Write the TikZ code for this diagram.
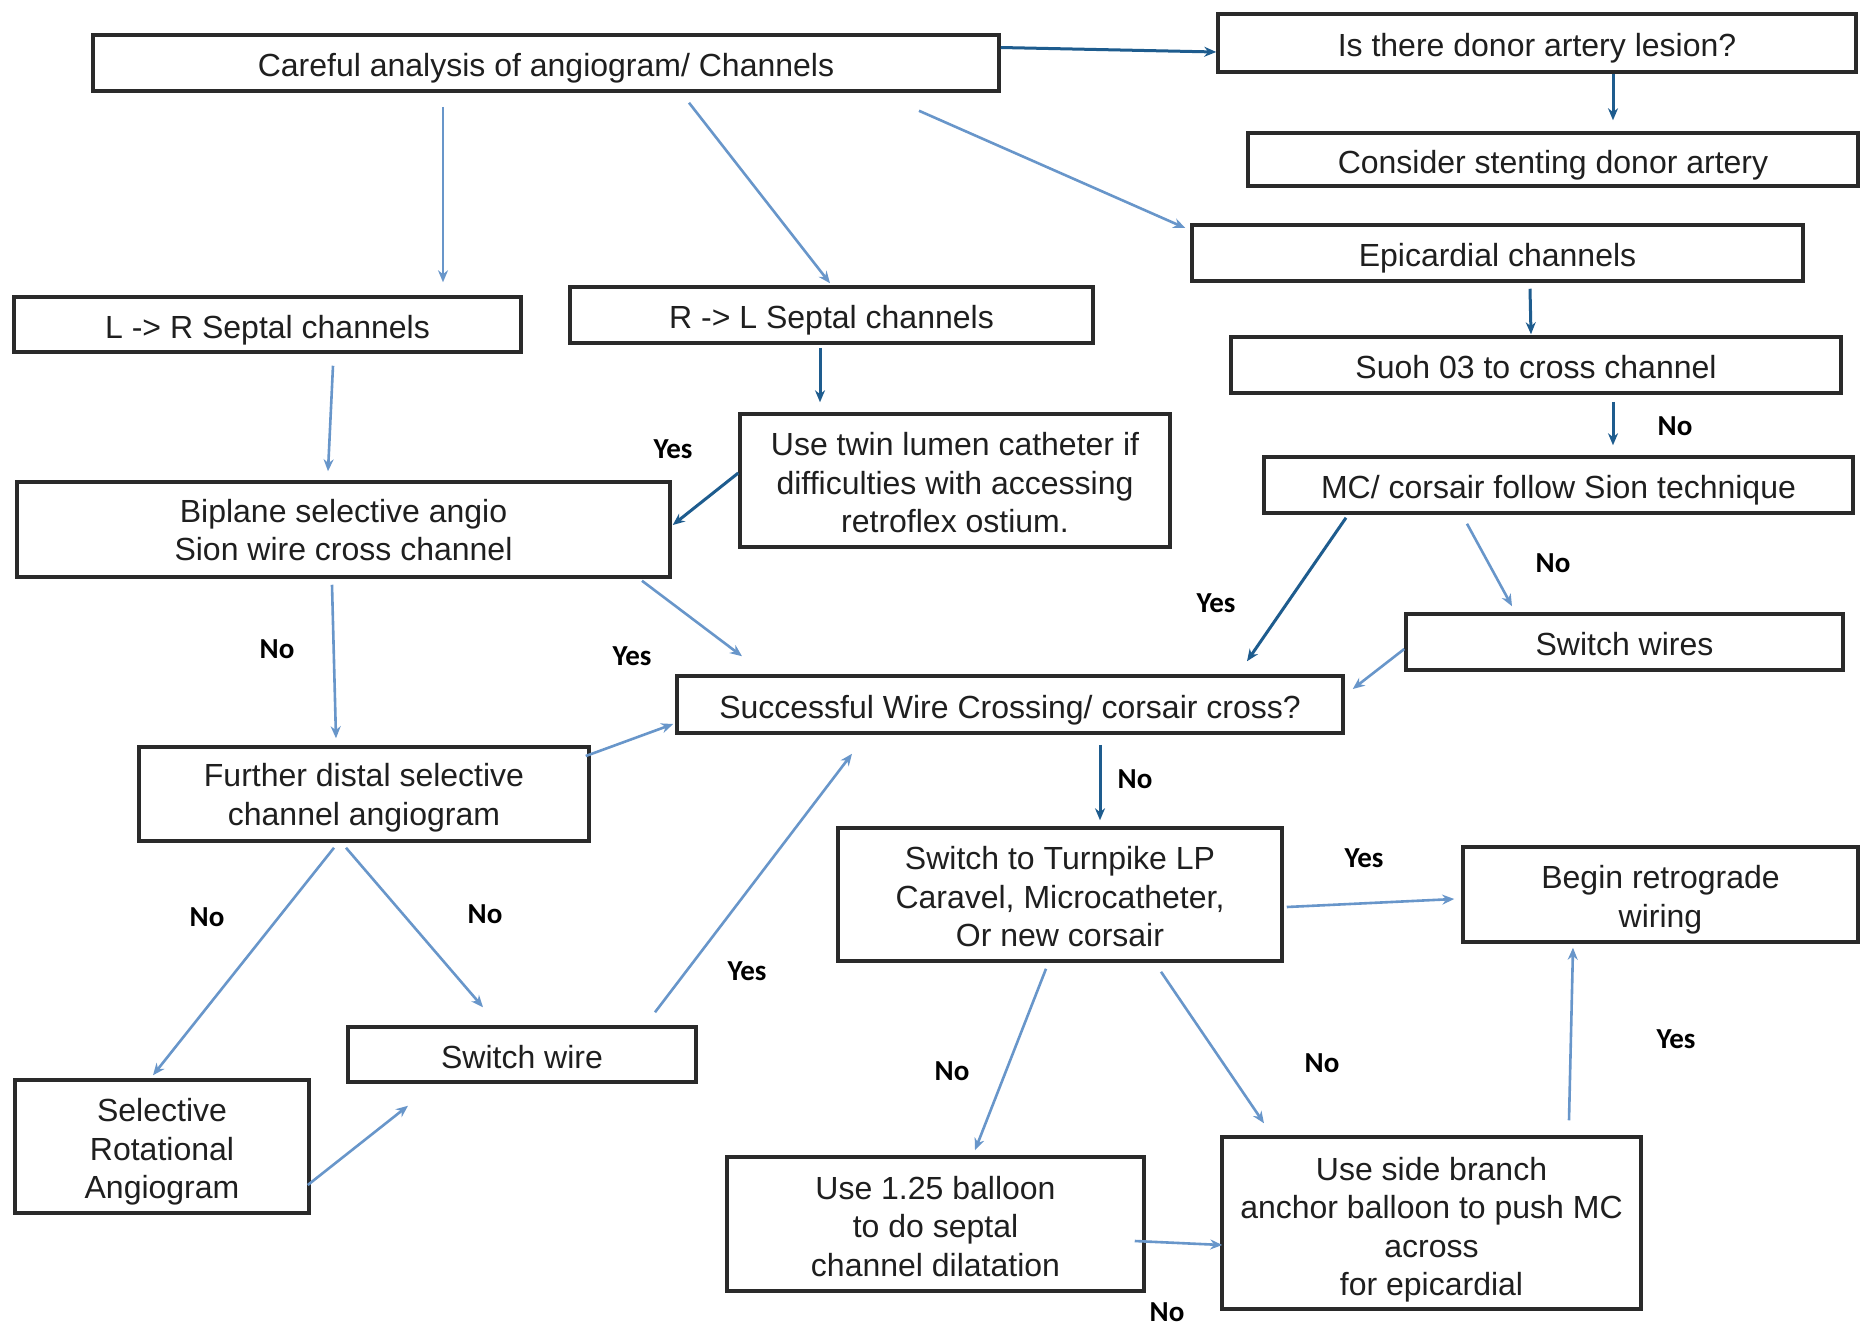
\documentclass[tikz,border=0pt]{standalone}
\usepackage{fontspec}
\setmainfont{Liberation Sans}
\newfontfamily\lblfont{Carlito}
\usetikzlibrary{arrows.meta}
\definecolor{lightarr}{RGB}{104,150,202}
\definecolor{darkarr}{RGB}{30,92,142}
\definecolor{boxline}{RGB}{42,42,42}
\newcommand{\bt}[2][39pt]{\begin{tabular}{@{}c@{}}\rule{0pt}{#1}#2\end{tabular}}
\begin{document}
\begin{tikzpicture}[x=1pt,y=1pt,
  box/.style={draw=boxline,line width=3.5pt,fill=white,inner sep=0pt,
    text=black!88,font=\fontsize{32}{38.5}\selectfont},
  arr/.style={draw=lightarr,line width=2.6pt,-{Stealth[length=12pt,width=10pt]}},
  darr/.style={draw=darkarr,line width=3pt,-{Stealth[length=12pt,width=10pt]}},
  lbl/.style={font=\lblfont\bfseries\fontsize{29}{32}\selectfont,text=black}]
\useasboundingbox (0,0) rectangle (1864,-1326);
\fill[white] (0,0) rectangle (1864,-1326);
% boxes
\node[box,minimum width=906,minimum height=56] (A) at (546,-63) {\bt{Careful analysis of angiogram/ Channels}};
\node[box,minimum width=638,minimum height=58] (B) at (1537,-43) {\bt{Is there donor artery lesion?}};
\node[box,minimum width=610,minimum height=53] (C) at (1553,-159.5) {\bt{Consider stenting donor artery}};
\node[box,minimum width=611,minimum height=56] (D) at (1497.5,-253) {\bt{Epicardial channels}};
\node[box,minimum width=507,minimum height=55] (E) at (267.5,-324.5) {\bt{L -> R Septal channels}};
\node[box,minimum width=523,minimum height=56] (F) at (831.5,-315) {\bt{R -> L Septal channels}};
\node[box,minimum width=610,minimum height=56] (G) at (1536,-365) {\bt{Suoh 03 to cross channel}};
\node[box,minimum width=430,minimum height=133] (H) at (955,-480.5) {\bt{Use twin lumen catheter if\\difficulties with accessing\\retroflex ostium.}};
\node[box,minimum width=653,minimum height=95] (I) at (343.5,-529.5) {\bt[36pt]{Biplane selective angio\\Sion wire cross channel}};
\node[box,minimum width=589,minimum height=56] (J) at (1558.5,-485) {\bt{MC/ corsair follow Sion technique}};
\node[box,minimum width=437,minimum height=56] (K) at (1624.5,-642) {\bt{Switch wires}};
\node[box,minimum width=666,minimum height=57] (L) at (1010,-704.5) {\bt{Successful Wire Crossing/ corsair cross?}};
\node[box,minimum width=450,minimum height=94] (M) at (364,-794) {\bt[36pt]{Further distal selective\\channel angiogram}};
\node[box,minimum width=444,minimum height=133] (N) at (1060,-894.5) {\bt{Switch to Turnpike LP\\Caravel, Microcatheter,\\Or new corsair}};
\node[box,minimum width=395,minimum height=95] (O) at (1660.5,-894.5) {\bt{Begin retrograde\\wiring}};
\node[box,minimum width=348,minimum height=55] (P) at (522,-1054.5) {\bt{Switch wire}};
\node[box,minimum width=294,minimum height=133] (Q) at (162,-1146.5) {\bt{Selective\\Rotational\\Angiogram}};
\node[box,minimum width=417,minimum height=134] (R) at (935.5,-1224) {\bt{Use 1.25 balloon\\to do septal\\channel dilatation}};
\node[box,minimum width=419,minimum height=172] (S) at (1431.5,-1223) {\bt[42pt]{Use side branch\\anchor balloon to push MC\\across\\for epicardial}};
% connectors
\draw[darr] ([yshift=15.5]A.east) -- ([yshift=-9]B.west);
\draw[darr] ([xshift=76]B.south) -- ([xshift=60,yshift=11]C.north);
\draw[arr] ([xshift=-103,yshift=-14]A.south) -- ([xshift=175.5,yshift=13]E.north);
\draw[arr] ([xshift=143,yshift=-10]A.south) -- ([xshift=-1.5,yshift=2]F.north);
\draw[arr] ([xshift=373,yshift=-18]A.south) -- ([xshift=-5,yshift=25]D.west);
\draw[darr] ([xshift=32.5,yshift=-6]D.south) -- ([xshift=-5,yshift=1]G.north);
\draw[darr] ([xshift=-11.5,yshift=-3]F.south) -- ([xshift=-135,yshift=10]H.north);
\draw[darr] ([yshift=7.5]H.west) -- ([xshift=1,yshift=4.5]I.east);
\draw[arr] ([xshift=65.5,yshift=-12]E.south) -- ([xshift=-15.5,yshift=9]I.north);
\draw[darr] ([xshift=77,yshift=-7]G.south) -- ([xshift=54.5,yshift=10]J.north);
\draw[darr] ([xshift=-212.5,yshift=-3]J.south) -- ([xshift=237,yshift=13]L.north);
\draw[arr] ([xshift=-91.5,yshift=-9]J.south) -- ([xshift=-112.5,yshift=6]K.north);
\draw[arr] ([yshift=-7]K.west) -- ([xshift=8,yshift=15.5]L.east);
\draw[arr] ([xshift=298.5,yshift=-2]I.south) -- ([xshift=-268,yshift=18]L.north);
\draw[arr] ([xshift=-11.5,yshift=-6]I.south) -- ([xshift=-28,yshift=7]M.north);
\draw[arr] ([xshift=-5,yshift=38]M.east) -- ([xshift=-2,yshift=-19.5]L.west);
\draw[darr] ([xshift=90,yshift=-10]L.south) -- ([xshift=40,yshift=6]N.north);
\draw[arr] ([xshift=-30,yshift=-5]M.south) -- ([xshift=-9,yshift=3]Q.north);
\draw[arr] ([xshift=-18,yshift=-5]M.south) -- ([xshift=-39,yshift=18]P.north);
\draw[arr] ([xshift=133,yshift=13]P.north) -- ([xshift=-158,yshift=-19]L.south);
\draw[arr] ([xshift=-3,yshift=-38.5]Q.east) -- ([xshift=-114,yshift=-22]P.south);
\draw[arr] ([xshift=3,yshift=-12.5]N.east) -- ([xshift=-7,yshift=-4.5]O.west);
\draw[arr] ([xshift=-14,yshift=-6]N.south) -- ([xshift=39.5,yshift=5]R.north);
\draw[arr] ([xshift=101,yshift=-9]N.south) -- ([xshift=-167.5,yshift=12]S.north);
\draw[arr] ([xshift=137.5,yshift=15]S.north) -- ([xshift=-87.5,yshift=-4]O.south);
\draw[arr] ([xshift=-11,yshift=-17]R.east) -- ([xshift=2,yshift=-22]S.west);
% labels
\node[lbl] (l1) at (673,-449) {Yes};
\node[lbl] (l2) at (277,-649) {No};
\node[lbl] (l3) at (632,-656) {Yes};
\node[lbl] (l4) at (1216,-603) {Yes};
\node[lbl] (l5) at (1675,-426) {No};
\node[lbl] (l6) at (1553,-563) {No};
\node[lbl] (l7) at (1135,-779) {No};
\node[lbl] (l8) at (207,-917) {No};
\node[lbl] (l9) at (485,-914) {No};
\node[lbl] (l10) at (747,-971) {Yes};
\node[lbl] (l11) at (1364,-858) {Yes};
\node[lbl] (l12) at (952,-1071) {No};
\node[lbl] (l13) at (1322,-1063) {No};
\node[lbl] (l14) at (1676,-1039) {Yes};
\node[lbl] (l15) at (1167,-1312) {No};
\end{tikzpicture}
\end{document}
